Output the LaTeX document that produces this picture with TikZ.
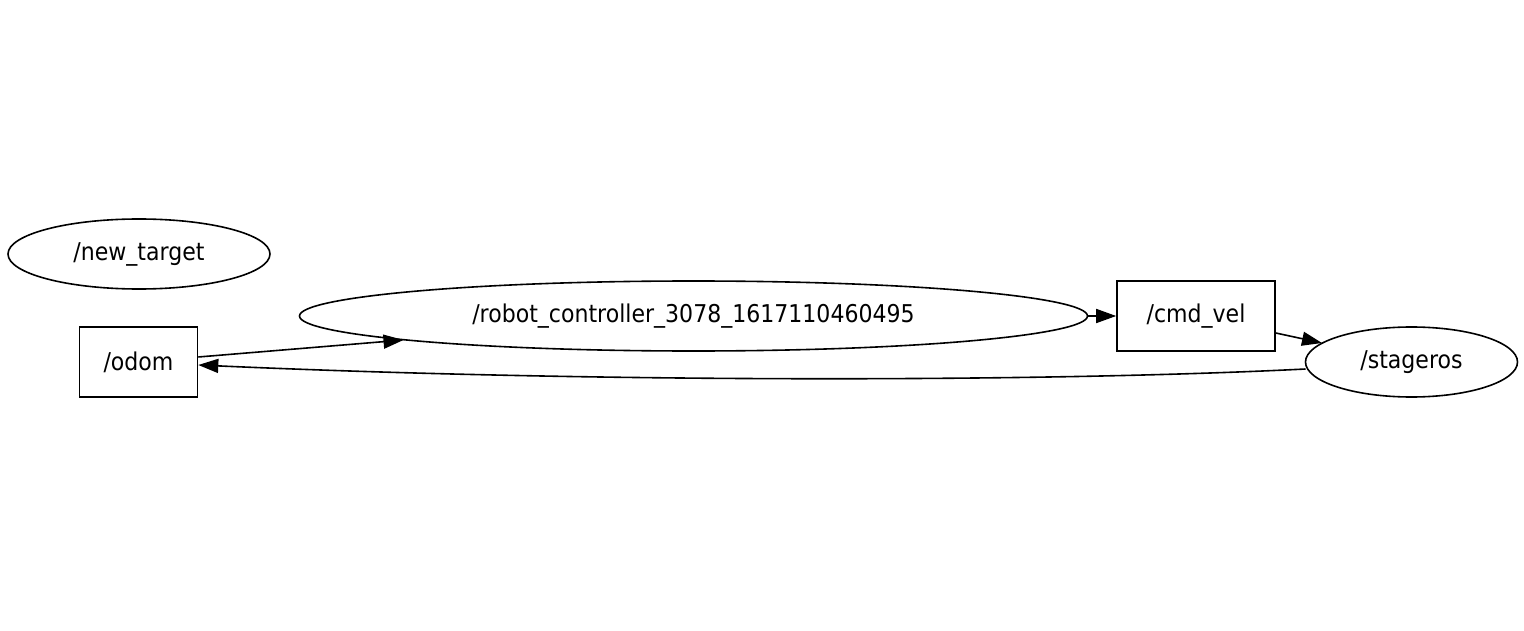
\documentclass[tikz,border=0pt]{standalone}
\usepackage{fontspec}
\setmainfont{DejaVu Sans}[FakeStretch=0.9]
\usetikzlibrary{shapes.geometric,arrows.meta}
\begin{document}
\begin{tikzpicture}[x=1pt,y=-1pt,
  every node/.style={font=\fontsize{24.5}{29}\selectfont, inner sep=0pt, line width=1.6pt, draw=black},
  topic/.style={rectangle, minimum height=70pt},
  gnode/.style={ellipse, minimum height=70pt},
  edge/.style={draw=black, line width=1.6pt, -{Triangle[length=20pt,width=14pt]}}]
\useasboundingbox (0,0) rectangle (1524,631);
\fill[white] (0,0) rectangle (1524,631);
\node[gnode, minimum width=262pt] (newtarget) at (139,254) {/new\_target};
\node[topic, minimum width=118pt] (odom) at (138.5,362) {/odom};
\node[gnode, minimum width=788pt] (robot) at (693.5,316) {/robot\_controller\_3078\_1617110460495};
\node[topic, minimum width=158pt] (cmdvel) at (1196,316) {/cmd\_vel};
\node[gnode, minimum width=212pt] (stageros) at (1411.5,362) {/stageros};
\draw[edge] ([yshift=5pt]odom.east) -- ([xshift=-290pt,yshift=-24pt]robot.center);
\draw[edge] (robot.east) -- (cmdvel.west);
\draw[edge] ([yshift=-17pt]cmdvel.east) -- ([xshift=-89.5pt,yshift=19pt]stageros.center);
\draw[edge] ([xshift=-106pt,yshift=-7pt]stageros.center) .. controls (1050,382) and (600,383) .. ([yshift=-3pt]odom.east);
\end{tikzpicture}
\end{document}
